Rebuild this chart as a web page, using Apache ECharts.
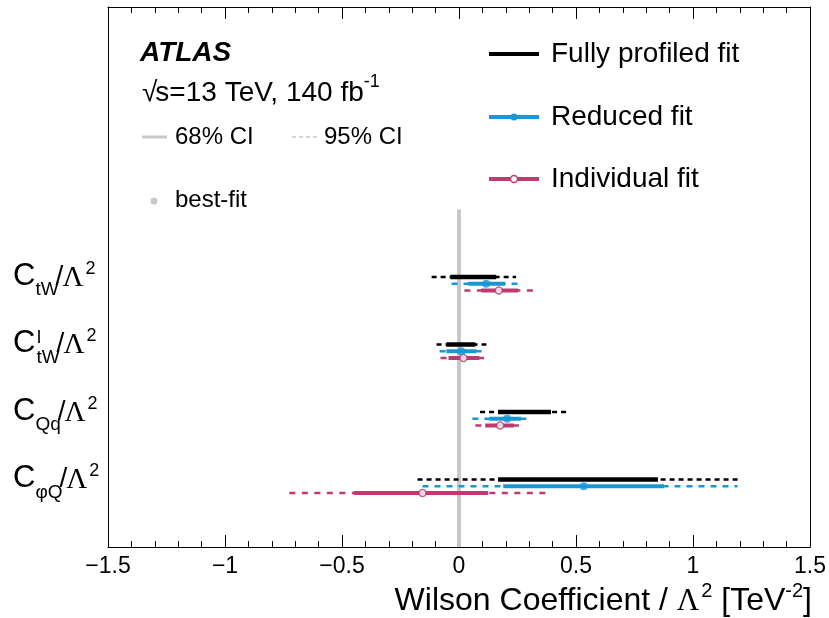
<!DOCTYPE html>
<html>
<head>
<meta charset="utf-8">
<script src="https://cdn.jsdelivr.net/npm/echarts@6/dist/echarts.min.js"></script>
<style>
  html, body { margin: 0; padding: 0; background: #fff; }
  #chart { width: 829px; height: 618px; }
</style>
</head>
<body>
<div id="chart"></div>
<script>
// Wilson coefficients, top to bottom
const coefficients = ['CtW', 'CtWI', 'CQq', 'CphiQ'];

// Fully profiled fit: 68% and 95% CI bounds [lo, hi]
const fullCI68 = [[-0.037, 0.159], [-0.054, 0.070], [0.167, 0.393], [0.167, 0.850]];
const fullCI95 = [[-0.117, 0.244], [-0.096, 0.117], [0.090, 0.473], [-0.177, 1.195]];

// Reduced fit: best-fit values and CI bounds
const reducedBest = [0.116, 0.010, 0.206, 0.533];
const reducedCI68 = [[0.040, 0.197], [-0.054, 0.074], [0.129, 0.265], [0.189, 0.876]];
const reducedCI95 = [[-0.032, 0.265], [-0.083, 0.104], [0.057, 0.308], [-0.156, 1.190]];

// Individual fit: best-fit values and CI bounds
const indivBest = [0.170, 0.019, 0.176, -0.156];
const indivCI68 = [[0.095, 0.252], [-0.045, 0.087], [0.112, 0.235], [-0.449, 0.125]];
const indivCI95 = [[0.023, 0.320], [-0.079, 0.117], [0.070, 0.282], [-0.725, 0.393]];

// x axis tick values
const xTicks = [-1.5, -1, -0.5, 0, 0.5, 1, 1.5];

const BLACK = '#000000';
const BLUE = '#1a96d5';
const MAGENTA = '#be3a70';
const GREY = '#c8c8c8';
const SANS = '"Liberation Sans", Arial, Helvetica, sans-serif';
const SERIF = '"Liberation Serif", "Times New Roman", serif';

// row centre on the y scale: top row highest
const rowY = i => coefficients.length - i;
const OFF = 0.1;

function ciData(ci, dy) {
  return ci.map((r, i) => [r[0], r[1], rowY(i) + dy]);
}

function intervalSeries(name, ci, dy, color, width, dash, z) {
  return {
    name: name,
    type: 'custom',
    z: z,
    encode: { x: [0, 1], y: 2 },
    data: ciData(ci, dy),
    renderItem: function (params, api) {
      const p1 = api.coord([api.value(0), api.value(2)]);
      const p2 = api.coord([api.value(1), api.value(2)]);
      return {
        type: 'line',
        shape: { x1: p1[0], y1: p1[1], x2: p2[0], y2: p2[1] },
        style: { stroke: color, lineWidth: width, lineDash: dash || null, lineCap: 'butt' }
      };
    },
    silent: true,
    animation: false
  };
}

const chart = echarts.init(document.getElementById('chart'), null, { renderer: 'canvas' });

const option = {
  animation: false,
  backgroundColor: '#fff',
  grid: { left: 108, right: 18, top: 7, bottom: 71 },
  xAxis: [
    {
      type: 'value', position: 'bottom', min: -1.5, max: 1.5, interval: 0.5,
      axisLine: { show: true, onZero: false, lineStyle: { color: '#000', width: 1 } },
      axisTick: { show: true, inside: true, length: 12, lineStyle: { color: '#000' } },
      minorTick: { show: true, splitNumber: 5, length: 6, lineStyle: { color: '#000' } },
      splitLine: { show: false },
      axisLabel: {
        show: true, margin: 8, color: '#000', fontSize: 23, fontFamily: SANS,
        formatter: v => (xTicks.indexOf(v) >= 0 ? String(v).replace('-', '\u2212') : '')
      }
    },
    {
      type: 'value', position: 'top', min: -1.5, max: 1.5, interval: 0.5,
      axisLine: { show: true, onZero: false, lineStyle: { color: '#000', width: 1 } },
      axisTick: { show: true, inside: true, length: 12, lineStyle: { color: '#000' } },
      minorTick: { show: true, splitNumber: 5, length: 6, lineStyle: { color: '#000' } },
      splitLine: { show: false },
      axisLabel: { show: false }
    }
  ],
  yAxis: [
    {
      type: 'value', position: 'left', min: 0.1, max: 8.1,
      axisLine: { show: true, onZero: false, lineStyle: { color: '#000', width: 1 } },
      axisTick: { show: false }, axisLabel: { show: false }, splitLine: { show: false }
    },
    {
      type: 'value', position: 'right', min: 0.1, max: 8.1,
      axisLine: { show: true, onZero: false, lineStyle: { color: '#000', width: 1 } },
      axisTick: { show: false }, axisLabel: { show: false }, splitLine: { show: false }
    }
  ],
  series: [
    {
      name: 'zero', type: 'line', z: 1, silent: true, symbol: 'none',
      data: [[0, 0.1], [0, 5.1]],
      lineStyle: { color: GREY, width: 4 }
    },
    intervalSeries('full95', fullCI95, OFF, BLACK, 2.5, [5, 4], 2),
    intervalSeries('full68', fullCI68, OFF, BLACK, 4.5, null, 3),
    intervalSeries('red95', reducedCI95, 0, BLUE, 2.5, [6, 6], 2),
    intervalSeries('red68', reducedCI68, 0, BLUE, 4, null, 3),
    intervalSeries('ind95', indivCI95, -OFF, MAGENTA, 2.5, [6, 6.5], 2),
    intervalSeries('ind68', indivCI68, -OFF, MAGENTA, 4, null, 3),
    {
      name: 'redBest', type: 'scatter', z: 4, silent: true,
      symbol: 'circle', symbolSize: 8,
      data: reducedBest.map((v, i) => [v, rowY(i)]),
      itemStyle: { color: BLUE }
    },
    {
      name: 'indBest', type: 'scatter', z: 4, silent: true,
      symbol: 'circle', symbolSize: 7,
      data: indivBest.map((v, i) => [v, rowY(i) - OFF]),
      itemStyle: { color: '#fff', borderColor: MAGENTA, borderWidth: 1.5 }
    }
  ]
};
chart.setOption(option);

// ---- text helpers: a run of pieces with individual sizes / vertical shifts ----
const measureCtx = document.createElement('canvas').getContext('2d');
function textWidth(str, size, family, weight, style) {
  measureCtx.font = (style || 'normal') + ' ' + (weight || 'normal') + ' ' + size + 'px ' + family;
  return measureCtx.measureText(str).width;
}
// pieces: {t, size, family, dy, dx, weight, style, stack}
function runs(x, y, pieces, align) {
  let total = 0;
  const widths = pieces.map(p => textWidth(p.t, p.size, p.family || SANS, p.weight, p.style));
  // stacked pieces share their x with the following piece
  pieces.forEach((p, k) => { if (!p.stack) total += widths[k] + (p.dx || 0); });
  let cx = align === 'right' ? x - total : x;
  const els = [];
  pieces.forEach((p, k) => {
    cx += (p.dx || 0);
    els.push({
      type: 'text', x: cx, y: y + (p.dy || 0), silent: true,
      style: {
        text: p.t, fill: '#000', fontSize: p.size, fontFamily: p.family || SANS,
        fontWeight: p.weight || 'normal', fontStyle: p.style || 'normal',
        align: 'left', verticalAlign: 'middle'
      }
    });
    if (!p.stack) cx += widths[k];
  });
  return els;
}

// coefficient labels on the left, anchored to each row through the y scale
const subs = [
  { sub: 'tW', sup: null },
  { sub: 'tW', sup: 'I' },
  { sub: 'Qq', sup: null },
  { sub: '\u03c6Q', sup: null }
];
const graphics = [];
subs.forEach((s, i) => {
  const py = chart.convertToPixel({ xAxisIndex: 0, yAxisIndex: 0 }, [-1.5, rowY(i) + OFF])[1];
  const pieces = [{ t: 'C', size: 31, dy: -1 }];
  if (s.sup) pieces.push({ t: s.sup, size: 18, dy: -6, dx: 1, stack: true });
  pieces.push({ t: s.sub, size: 19, dy: 13 });
  pieces.push({ t: '/', size: 28, dy: 0, dx: -3 });
  pieces.push({ t: '\u039b', size: 29, family: SERIF, dy: 1, dx: -1 });
  pieces.push({ t: '2', size: 18, dy: -8, dx: 2 });
  graphics.push(...runs(13, py, pieces, 'left'));
});

// axis title
graphics.push(...runs(812, 601, [
  { t: 'Wilson Coefficient / ', size: 32 },
  { t: '\u039b', size: 31, family: SERIF, dy: 1 },
  { t: '2', size: 20, dy: -10, dx: 2 },
  { t: ' [TeV', size: 32 },
  { t: '-2', size: 20, dy: -10 },
  { t: ']', size: 32 }
], 'right'));

// ATLAS label and dataset info
graphics.push({
  type: 'text', x: 140, y: 53, silent: true,
  style: { text: 'ATLAS', fill: '#000', fontSize: 28, fontFamily: SANS, fontWeight: 'bold', fontStyle: 'italic', verticalAlign: 'middle' }
});
graphics.push(...runs(142, 93, [
  { t: '\u221a', size: 28, dx: 0 },
  { t: 's=13 TeV, 140 fb', size: 28, dx: -2 },
  { t: '-1', size: 18, dy: -11 }
], 'left'));

// CI style key
graphics.push({ type: 'line', silent: true, shape: { x1: 142, y1: 137, x2: 167, y2: 137 }, style: { stroke: GREY, lineWidth: 3 } });
graphics.push({ type: 'text', x: 175, y: 137, silent: true, style: { text: '68% CI', fill: '#000', fontSize: 24, fontFamily: SANS, verticalAlign: 'middle' } });
graphics.push({ type: 'line', silent: true, shape: { x1: 292, y1: 137, x2: 317, y2: 137 }, style: { stroke: GREY, lineWidth: 1.5, lineDash: [4, 3] } });
graphics.push({ type: 'text', x: 324, y: 137, silent: true, style: { text: '95% CI', fill: '#000', fontSize: 24, fontFamily: SANS, verticalAlign: 'middle' } });
graphics.push({ type: 'circle', silent: true, shape: { cx: 154, cy: 201, r: 3.5 }, style: { fill: GREY } });
graphics.push({ type: 'text', x: 175, y: 200, silent: true, style: { text: 'best-fit', fill: '#000', fontSize: 24, fontFamily: SANS, verticalAlign: 'middle' } });

// fit legend
const legendRows = [
  { label: 'Fully profiled fit', color: BLACK, y: 54, marker: null },
  { label: 'Reduced fit', color: BLUE, y: 117, marker: 'filled' },
  { label: 'Individual fit', color: MAGENTA, y: 179, marker: 'open' }
];
legendRows.forEach(r => {
  graphics.push({ type: 'line', silent: true, shape: { x1: 489, y1: r.y, x2: 539, y2: r.y }, style: { stroke: r.color, lineWidth: 4 } });
  if (r.marker === 'filled') {
    graphics.push({ type: 'circle', silent: true, shape: { cx: 514, cy: r.y, r: 3.5 }, style: { fill: r.color } });
  } else if (r.marker === 'open') {
    graphics.push({ type: 'circle', silent: true, shape: { cx: 514, cy: r.y, r: 3.5 }, style: { fill: '#fff', stroke: r.color, lineWidth: 1.5 } });
  }
  graphics.push({ type: 'text', x: 551, y: r.y, silent: true, style: { text: r.label, fill: '#000', fontSize: 28, fontFamily: SANS, verticalAlign: 'middle' } });
});

chart.setOption({ graphic: graphics });
</script>
</body>
</html>
